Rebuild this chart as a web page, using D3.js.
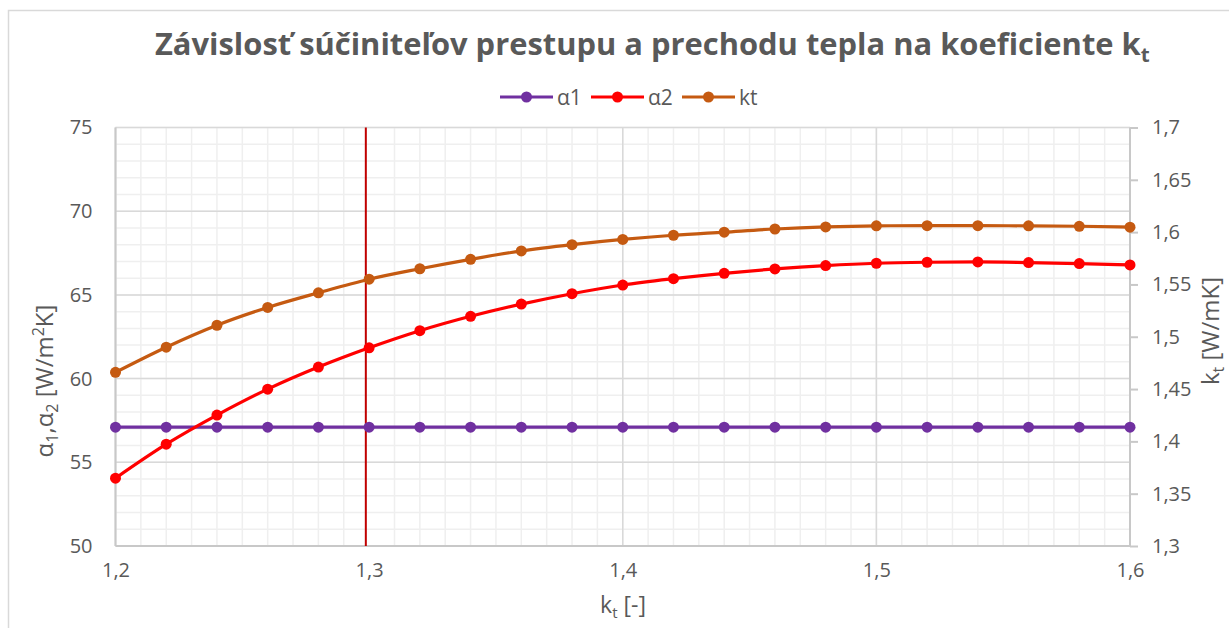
<!DOCTYPE html>
<html><head><meta charset="utf-8">
<script src="https://cdn.jsdelivr.net/npm/d3@7"></script>
<style>
html,body{margin:0;padding:0;background:#fff;}
svg{display:block;font-family:"Open Sans",sans-serif;}
</style></head>
<body>
<svg id="chart" width="1229" height="628"></svg>
<script>
const ktX = [1.20,1.22,1.24,1.26,1.28,1.30,1.32,1.34,1.36,1.38,1.40,1.42,1.44,1.46,1.48,1.50,1.52,1.54,1.56,1.58,1.60];
const alpha1 = [57.1,57.1,57.1,57.1,57.1,57.1,57.1,57.1,57.1,57.1,57.1,57.1,57.1,57.1,57.1,57.1,57.1,57.1,57.1,57.1,57.1];
const alpha2 = [54.05,56.08,57.82,59.37,60.69,61.84,62.86,63.72,64.45,65.07,65.59,65.97,66.29,66.55,66.75,66.89,66.95,66.97,66.93,66.87,66.79];
const ktVals = [1.466,1.490,1.511,1.528,1.542,1.555,1.565,1.574,1.582,1.588,1.593,1.597,1.600,1.603,1.605,1.606,1.6062,1.6062,1.606,1.6056,1.6047];
const xTicks = [1.2,1.3,1.4,1.5,1.6];
const leftTicks = [50,55,60,65,70,75];
const rightTicks = [1.3,1.35,1.4,1.45,1.5,1.55,1.6,1.65,1.7];
const markerX = 1.2987;
const seriesNames = ["α1","α2","kt"];
const colors = ["#7030A0","#FF0000","#C55A11"];

const svg = d3.select("#chart");
const L = 115.5, R = 1130, T = 127.5, B = 546;
const x = d3.scaleLinear().domain([1.2,1.6]).range([L,R]);
const yL = d3.scaleLinear().domain([50,75]).range([B,T]);
const yR = d3.scaleLinear().domain([1.3,1.7]).range([B,T]);
const fmt = d => String(d).replace(".", ",");
const textCol = "#595959";

// chart border
svg.append("path").attr("d","M8.5,628 L8.5,10.5 L1229,10.5").attr("fill","none").attr("stroke","#d9d9d9").attr("stroke-width",1.5);

// minor gridlines
const g = svg.append("g");
g.selectAll(".vmin").data(d3.range(0,41).map(i=>1.2+i*0.01).filter(v=>Math.abs(v-1.3)>0.001)).join("line")
  .attr("x1",d=>x(d)).attr("x2",d=>x(d)).attr("y1",T).attr("y2",B)
  .attr("stroke","#efefef").attr("stroke-width",1.5);
g.selectAll(".hmin").data(d3.range(50,76)).join("line")
  .attr("x1",L).attr("x2",R).attr("y1",d=>yL(d)).attr("y2",d=>yL(d))
  .attr("stroke","#efefef").attr("stroke-width",1.5);
// major gridlines (the one at 1.3 is hidden under the marker line)
g.selectAll(".vmaj").data(xTicks.filter(v=>Math.abs(v-1.3)>0.001)).join("line")
  .attr("x1",d=>x(d)).attr("x2",d=>x(d)).attr("y1",T).attr("y2",B)
  .attr("stroke","#d9d9d9").attr("stroke-width",1.5);
g.selectAll(".hmaj").data(leftTicks).join("line")
  .attr("x1",L).attr("x2",R).attr("y1",d=>yL(d)).attr("y2",d=>yL(d))
  .attr("stroke","#d9d9d9").attr("stroke-width",1.5);

// axes lines
svg.append("line").attr("x1",L).attr("x2",L).attr("y1",T).attr("y2",B).attr("stroke","#c8c8c8").attr("stroke-width",2);
svg.append("line").attr("x1",L).attr("x2",R).attr("y1",B).attr("y2",B).attr("stroke","#c8c8c8").attr("stroke-width",2);

// left axis
const axL = svg.append("g").attr("transform",`translate(${L},0)`)
  .call(d3.axisLeft(yL).tickValues(leftTicks).tickFormat(fmt).tickSize(0).tickPadding(23));
axL.select(".domain").remove();
axL.selectAll("text").attr("font-size",20).attr("fill",textCol).attr("font-family","Open Sans");

// right axis
const axR = svg.append("g").attr("transform",`translate(${R},0)`)
  .call(d3.axisRight(yR).tickValues(rightTicks).tickFormat(fmt).tickSize(8).tickPadding(14));
axR.select(".domain").attr("stroke","#c8c8c8").attr("stroke-width",2).attr("d",`M0,${T}V${B}`);
axR.selectAll("line").attr("stroke","#c8c8c8").attr("stroke-width",2);
axR.selectAll("text").attr("font-size",20).attr("fill",textCol).attr("font-family","Open Sans");

// bottom axis
const axB = svg.append("g").attr("transform",`translate(0,${B})`)
  .call(d3.axisBottom(x).tickValues(xTicks).tickFormat(fmt).tickSize(0).tickPadding(17));
axB.select(".domain").remove();
axB.selectAll("text").attr("font-size",20).attr("fill",textCol).attr("font-family","Open Sans");

// vertical marker line
svg.append("line").attr("x1",x(markerX)).attr("x2",x(markerX)).attr("y1",T).attr("y2",B)
  .attr("stroke","#C00000").attr("stroke-width",2);

// series
const series = [
  {vals:alpha1, y:yL, c:colors[0]},
  {vals:alpha2, y:yL, c:colors[1]},
  {vals:ktVals, y:yR, c:colors[2]}
];
series.forEach(s=>{
  const data = ktX.map((k,i)=>[k,s.vals[i]]);
  const line = d3.line().x(d=>x(d[0])).y(d=>s.y(d[1])).curve(d3.curveMonotoneX);
  svg.append("path").datum(data).attr("d",line).attr("fill","none").attr("stroke",s.c).attr("stroke-width",3.2);
  svg.append("g").selectAll("circle").data(data).join("circle")
    .attr("cx",d=>x(d[0])).attr("cy",d=>s.y(d[1])).attr("r",5.5).attr("fill",s.c);
});

// title
const title = svg.append("text").attr("x",155).attr("y",55).attr("font-family","Open Sans").attr("font-weight","bold")
  .attr("font-size",30).attr("fill",textCol);
title.append("tspan").text("Závislosť súčiniteľov prestupu a prechodu tepla na koeficiente k");
title.append("tspan").attr("dy",7).attr("font-size",20).text("t");
const tw = title.node().getComputedTextLength();
const target = 995;
title.attr("transform",`translate(155,0) scale(${target/tw},1) translate(-155,0)`);

// legend
const legX = [500,591,682];
seriesNames.forEach((n,i)=>{
  const lg = svg.append("g").attr("transform",`translate(${legX[i]},97)`);
  lg.append("line").attr("x1",0).attr("x2",53).attr("y1",0).attr("y2",0).attr("stroke",colors[i]).attr("stroke-width",3.2);
  lg.append("circle").attr("cx",26.5).attr("cy",0).attr("r",5.5).attr("fill",colors[i]);
  lg.append("text").attr("x",57).attr("y",8).attr("font-size",21).attr("fill",textCol).text(n);
});

// x axis title
const xt = svg.append("text").attr("x",623).attr("y",613).attr("text-anchor","middle").attr("font-size",23).attr("fill",textCol);
xt.append("tspan").text("k");
xt.append("tspan").attr("dy",5).attr("font-size",15).text("t");
xt.append("tspan").attr("dy",-5).text(" [-]");

// left axis title
const lt = svg.append("text").attr("transform","translate(53,381) rotate(-90)").attr("text-anchor","middle").attr("font-size",24).attr("fill",textCol);
lt.append("tspan").text("α");
lt.append("tspan").attr("dy",5).attr("font-size",16).text("1");
lt.append("tspan").attr("dy",-5).text(",α");
lt.append("tspan").attr("dy",5).attr("font-size",16).text("2");
lt.append("tspan").attr("dy",-5).text(" [W/m");
lt.append("tspan").attr("dy",-9).attr("font-size",16).text("2");
lt.append("tspan").attr("dy",9).text("K]");

// right axis title
const rt = svg.append("text").attr("transform","translate(1219,331) rotate(-90)").attr("text-anchor","middle").attr("font-size",24).attr("fill",textCol);
rt.append("tspan").text("k");
rt.append("tspan").attr("dy",5).attr("font-size",16).text("t");
rt.append("tspan").attr("dy",-5).text(" [W/mK]");
</script>
</body></html>
